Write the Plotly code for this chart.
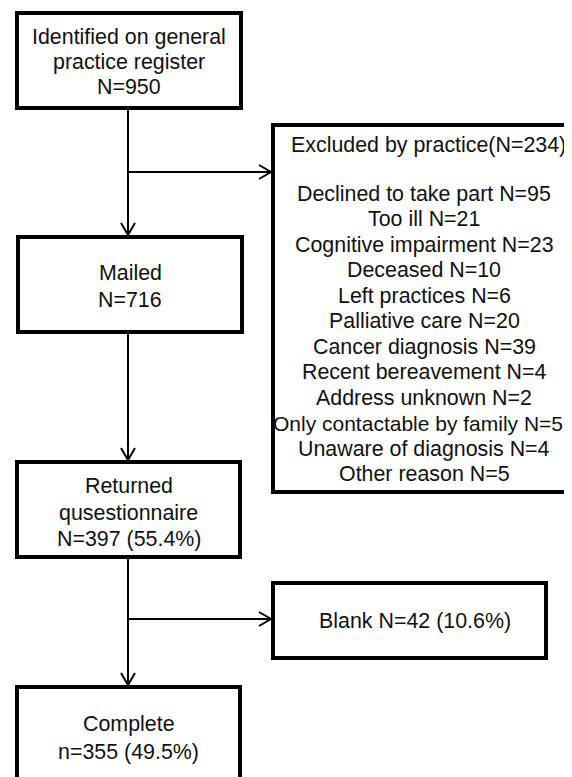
import plotly.graph_objects as go

# ---- content ----
main_labels = [
    ["Identified on general", "practice register", "N=950"],
    ["Mailed", "N=716"],
    ["Returned", "qusestionnaire", "N=397 (55.4%)"],
    ["Complete", "n=355 (49.5%)"],
]
excluded_title = "Excluded by practice(N=234)"
excluded_reasons = [
    "Declined to take part", "Too ill", "Cognitive impairment", "Deceased",
    "Left practices", "Palliative care", "Cancer diagnosis", "Recent bereavement",
    "Address unknown", "Only contactable by family", "Unaware of diagnosis", "Other reason",
]
excluded_counts = [95, 21, 23, 10, 6, 20, 39, 4, 2, 5, 4, 5]
blank_label = "Blank N=42 (10.6%)"

# ---- layout geometry (page pixel space) ----
W, H = 572, 777
OFF = 8  # default body margin of the html page
main_boxes = [  # x0, y0, x1, y1
    (17, 13, 241, 108),
    (18, 237, 242, 332),
    (17, 462, 240, 557),
    (17, 687, 240, 785),
]
main_text_y = [[37, 62, 87], [273, 300], [486, 513, 539], [724, 752]]
excl_box = (273, 125, 590, 492)
blank_box = (273, 583, 546, 658)
spine_x = 128
branch_ys = [172, 619]

FONT = dict(family="Liberation Sans, Arial, sans-serif", size=21.4, color="#111111")

fig = go.Figure()
shapes = []
annotations = []

def rect(b):
    shapes.append(dict(type="rect", xref="x", yref="y", x0=b[0], y0=b[1], x1=b[2], y1=b[3],
                       line=dict(color="black", width=4), fillcolor="rgba(0,0,0,0)", layer="above"))

def line(x0, y0, x1, y1):
    shapes.append(dict(type="line", xref="x", yref="y", x0=x0, y0=y0, x1=x1, y1=y1,
                       line=dict(color="black", width=2)))

def chevron_down(x, y):
    shapes.append(dict(type="path", xref="x", yref="y",
                       path=f"M {x-7} {y-12} L {x} {y} L {x+7} {y-12}",
                       line=dict(color="black", width=2)))

def chevron_right(x, y):
    shapes.append(dict(type="path", xref="x", yref="y",
                       path=f"M {x-12} {y-7} L {x} {y} L {x-12} {y+7}",
                       line=dict(color="black", width=2)))

def label(x, y, txt, size=None):
    f = dict(FONT) if size is None else dict(FONT, size=size)
    annotations.append(dict(x=x, y=y, text=txt, showarrow=False, xref="x", yref="y",
                            xanchor="center", yanchor="middle", font=f))

for b in main_boxes:
    rect(b)
rect(excl_box)
rect(blank_box)

# vertical connectors
for i in range(len(main_boxes) - 1):
    y0 = main_boxes[i][3] + 2
    y1 = main_boxes[i + 1][1] - 2
    line(spine_x, y0, spine_x, y1)
    chevron_down(spine_x, y1)

# side branches
for by, target in zip(branch_ys, [excl_box, blank_box]):
    line(spine_x, by, target[0] - 2, by)
    chevron_right(target[0] - 2, by)

# text
for b, lines, ys in zip(main_boxes, main_labels, main_text_y):
    for t, y in zip(lines, ys):
        label((b[0] + b[2]) / 2, y, t)

label(428, 145, excluded_title)
for i, (r, c) in enumerate(zip(excluded_reasons, excluded_counts)):
    txt = f"{r} N={c}"
    if r.startswith("Only"):
        label(418, 194 + 25.45 * i, txt, size=21)
    else:
        label(424, 194 + 25.45 * i, txt)
label(415, 621, blank_label)

fig.update_layout(
    width=W - OFF, height=H - OFF,
    margin=dict(l=0, r=0, t=0, b=0),
    paper_bgcolor="white", plot_bgcolor="white",
    xaxis=dict(range=[OFF, W], visible=False, fixedrange=True),
    yaxis=dict(range=[H, OFF], visible=False, fixedrange=True),
    shapes=shapes, annotations=annotations, showlegend=False,
)

fig.write_html("out.html")
